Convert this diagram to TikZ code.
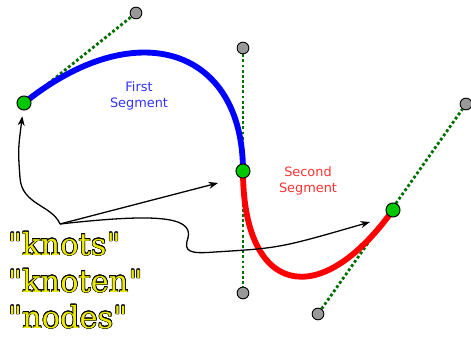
\documentclass[tikz,border=0pt]{standalone}
\usepackage{fontspec}
\usepackage{contour}
\usetikzlibrary{arrows.meta,backgrounds}
\newfontfamily\segfont{DejaVu Sans}
\newfontfamily\knotfont{DejaVu Serif}
\definecolor{knotgreen}{RGB}{0,200,0}
\definecolor{handlegreen}{RGB}{0,110,0}
\definecolor{knotyellow}{RGB}{235,235,0}
\definecolor{segblue}{RGB}{0,0,255}
\definecolor{segred}{RGB}{255,0,0}
\definecolor{textblue}{RGB}{50,50,255}
\definecolor{textred}{RGB}{255,50,50}
\contourlength{0.45pt}
\newcommand{\knotword}[1]{\contour{black}{\textcolor{knotyellow}{#1}}}

\begin{document}
\begin{tikzpicture}[x=0.03cm, y=-0.03cm, >={Stealth[length=8pt,width=6pt,inset=2.5pt]},
  knot/.style={circle, draw, thick, fill=knotgreen, minimum size=12pt,
    inner sep=0pt},
  handle/.style={circle, draw, thick, fill=black!40, minimum size=10pt,
    inner sep=0pt},
  handleline/.style={handlegreen, dotted, line width=2.4pt},
  pointer/.style={->, line width=1.1pt},
  segtext/.style={align=center, font=\segfont\fontsize{11}{13.5}\selectfont},
  knottext/.style={anchor=base west, inner sep=0pt,
    font=\knotfont\fontsize{26}{30}\selectfont}]
  \useasboundingbox (0,0) rectangle (471,338);
  % knots and handles
  \node[knot] (k1) at (24,103) {};
  \node[knot] (k2) at (243,171) {};
  \node[knot] (k3) at (393,210) {};
  \node[handle] (h1) at (136,13) {};
  \node[handle] (h2) at (243,48) {};
  \node[handle] (h3) at (243,293) {};
  \node[handle] (h4) at (318,314) {};
  \node[handle] (h5) at (466,104) {};
  \node[segtext, text=textblue] (seg1) at (139,96) {First\\Segment};
  \node[segtext, text=textred] (seg2) at (308,181) {Second\\Segment};
  % labels
  \node[knottext] (w1) at (8,255) {\knotword{"knots"}};
  \node[knottext] (w2) at (8,292) {\knotword{"knoten"}};
  \node[knottext] (w3) at (8,328) {\knotword{"nodes"}};
  \coordinate (src) at (60,224);
  \coordinate (tip2) at (218,183);
  \coordinate (tip3) at (370,222);
  \begin{scope}[on background layer]
    \draw[handleline] (k1.center) -- (h1);
    \draw[handleline] (h2) -- (h3);
    \draw[handleline] (h4) -- (h5);
    % segments
    \draw[segblue, line width=5pt] (k1.center) .. controls (h1.center) and (h2.center) .. (k2.center);
    \draw[segred, line width=5pt] (k2.center) .. controls (h3.center) and (h4.center) .. (k3.center);
    % arrows
    \draw[pointer, shorten >=5pt] (src) .. controls (52,205) and (22,205) .. (20,178)
      .. controls (18,150) .. (k1);
    \draw[pointer] (src) -- (tip2);
    \draw[pointer] (src) .. controls (150,214) and (194,215) .. (188,238)
      .. controls (183,252) and (190,254) .. (215,252) .. controls (280,248) .. (tip3);
  \end{scope}
\end{tikzpicture}
\end{document}
